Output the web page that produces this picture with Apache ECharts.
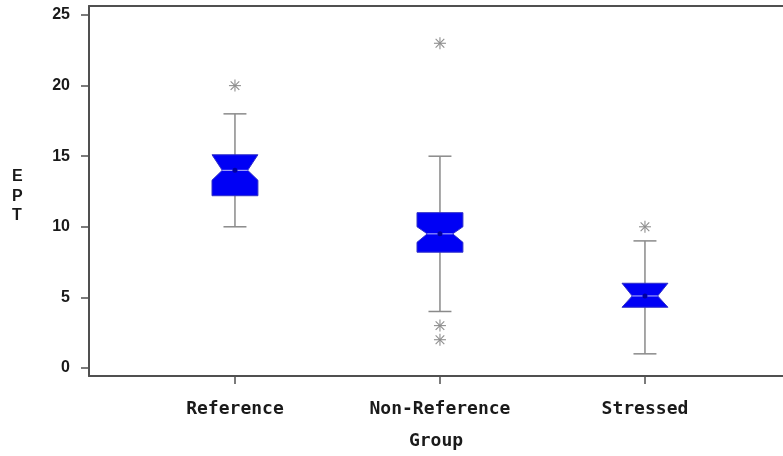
<!DOCTYPE html>
<html>
<head>
<meta charset="utf-8">
<script src="https://cdn.jsdelivr.net/npm/echarts@6/dist/echarts.min.js"></script>
<style>html,body{margin:0;padding:0;background:#fff}#c{width:783px;height:456px}</style>
</head>
<body>
<div id="c"></div>
<script>
const categories = ['Reference', 'Non-Reference', 'Stressed'];
const whiskerLow = [10, 4, 1];
const q1 = [12.2, 8.2, 4.3];
const median = [14, 9.5, 5.1];
const q3 = [15, 11, 6];
const whiskerHigh = [18, 15, 9];
const notchLow = [13.3, 8.9, 4.3];
const notchHigh = [15.1, 10.0, 6.0];
const means = [14, 9.5, 5.1];
const outlierGroup = [0, 1, 1, 1, 2];
const outlierValue = [20, 23, 3, 2, 10];
const yTicks = [0, 5, 10, 15, 20, 25];
const xTicks = [1, 2, 3];
const xTitle = 'Group';
const yTitle = 'EPT';

const boxData = categories.map((c, i) => [i + 1, whiskerLow[i], q1[i], median[i], q3[i], whiskerHigh[i], notchLow[i], notchHigh[i], means[i]]);
const outData = outlierValue.map((v, i) => [outlierGroup[i] + 1, v]);

const BOX_HALF = 0.112, NOTCH_IND = 0.05, CAP_HALF = 0.056;
const GRID_W = 694;
const X_MIN = 0.288, X_MAX = 0.288 + GRID_W / 205;
const chart = echarts.init(document.getElementById('c'));

function renderBox(params, api) {
  const x = api.value(0);
  const p = (xx, yy) => api.coord([xx, yy]);
  const wl = api.value(1), a = api.value(2), m = api.value(3), b = api.value(4), wh = api.value(5), nl = api.value(6), nh = api.value(7), mean = api.value(8);
  const L = x - BOX_HALF, R = x + BOX_HALF;
  const top = Math.max(b, nh), bot = Math.min(a, nl);
  const pts = [p(L, bot), p(L, nl), p(L + NOTCH_IND, m), p(L, nh), p(L, top), p(R, top), p(R, nh), p(R - NOTCH_IND, m), p(R, nl), p(R, bot)];
  const gray = {stroke: '#8a8a8a', lineWidth: 1.5};
  const w1 = p(x, wl), w2 = p(x, wh);
  const c1a = p(x - CAP_HALF, wl), c1b = p(x + CAP_HALF, wl);
  const c2a = p(x - CAP_HALF, wh), c2b = p(x + CAP_HALF, wh);
  const ml = p(L + NOTCH_IND, m), mr = p(R - NOTCH_IND, m);
  const mc = p(x, mean);
  return {
    type: 'group',
    children: [
      {type: 'line', shape: {x1: w1[0], y1: w1[1], x2: w2[0], y2: w2[1]}, style: gray},
      {type: 'line', shape: {x1: c1a[0], y1: c1a[1], x2: c1b[0], y2: c1b[1]}, style: gray},
      {type: 'line', shape: {x1: c2a[0], y1: c2a[1], x2: c2b[0], y2: c2b[1]}, style: gray},
      {type: 'polygon', shape: {points: pts}, style: {fill: '#0000f5', stroke: '#3030c8', lineWidth: 1}},
      {type: 'line', shape: {x1: ml[0], y1: ml[1], x2: mr[0], y2: mr[1]}, style: {stroke: '#b8b8ff', lineWidth: 1}},
      {type: 'circle', shape: {cx: mc[0], cy: mc[1], r: 2.5}, style: {fill: '#0000a0'}}
    ]
  };
}

function renderStar(params, api) {
  const c = api.coord([api.value(0), api.value(1)]);
  const r = 6, d = r * 0.72;
  const st = {stroke: '#8e8e8e', lineWidth: 1.1};
  const seg = (x1, y1, x2, y2) => ({type: 'line', shape: {x1: c[0] + x1, y1: c[1] + y1, x2: c[0] + x2, y2: c[1] + y2}, style: st});
  return {type: 'group', children: [seg(0, -r, 0, r), seg(-r, 0, r, 0), seg(-d, -d, d, d), seg(-d, d, d, -d)]};
}

const labelFont = {fontFamily: 'DejaVu Sans Mono', fontWeight: 'bold', color: '#1a1a1a'};

chart.setOption({
  animation: false,
  backgroundColor: '#fff',
  grid: {left: 89, top: 6, width: GRID_W, height: 370, show: false, containLabel: false},
  xAxis: [{
    type: 'value', min: X_MIN, max: X_MAX, position: 'bottom',
    splitLine: {show: false},
    axisLine: {show: true, onZero: false, lineStyle: {color: '#505050', width: 2}},
    axisTick: {show: true, customValues: xTicks, length: 8, inside: false, lineStyle: {color: '#505050', width: 1.5}},
    axisLabel: Object.assign({customValues: xTicks, formatter: v => categories[Math.round(v) - 1] || '', fontSize: 18, margin: 24}, labelFont),
    name: xTitle, nameLocation: 'middle', nameGap: 56,
    nameTextStyle: Object.assign({fontSize: 18}, labelFont)
  }, {
    type: 'value', min: X_MIN, max: X_MAX, position: 'top',
    splitLine: {show: false},
    axisLine: {show: true, onZero: false, lineStyle: {color: '#505050', width: 2}},
    axisTick: {show: false}, axisLabel: {show: false}
  }],
  yAxis: {
    type: 'value', min: -0.57, max: 25.64,
    splitLine: {show: false},
    axisLine: {show: true, onZero: false, lineStyle: {color: '#505050', width: 2}},
    axisTick: {show: true, customValues: yTicks, length: 8, lineStyle: {color: '#505050', width: 1.5}},
    axisLabel: {customValues: yTicks, fontSize: 16, fontWeight: 'bold', fontFamily: 'Liberation Sans', color: '#1a1a1a', margin: 19}
  },
  graphic: [{
    type: 'text', left: 12, top: 167,
    style: {text: yTitle.split('').join('\n'), fontSize: 16, fontWeight: 'bold', fontFamily: 'Liberation Sans', fill: '#1a1a1a', lineHeight: 19.5, align: 'center', x: 0}
  }],
  series: [
    {type: 'custom', renderItem: renderBox, data: boxData, encode: {x: 0, y: [1, 5]}, z: 2},
    {type: 'custom', renderItem: renderStar, data: outData, encode: {x: 0, y: 1}, z: 3}
  ]
});
</script>
</body>
</html>
